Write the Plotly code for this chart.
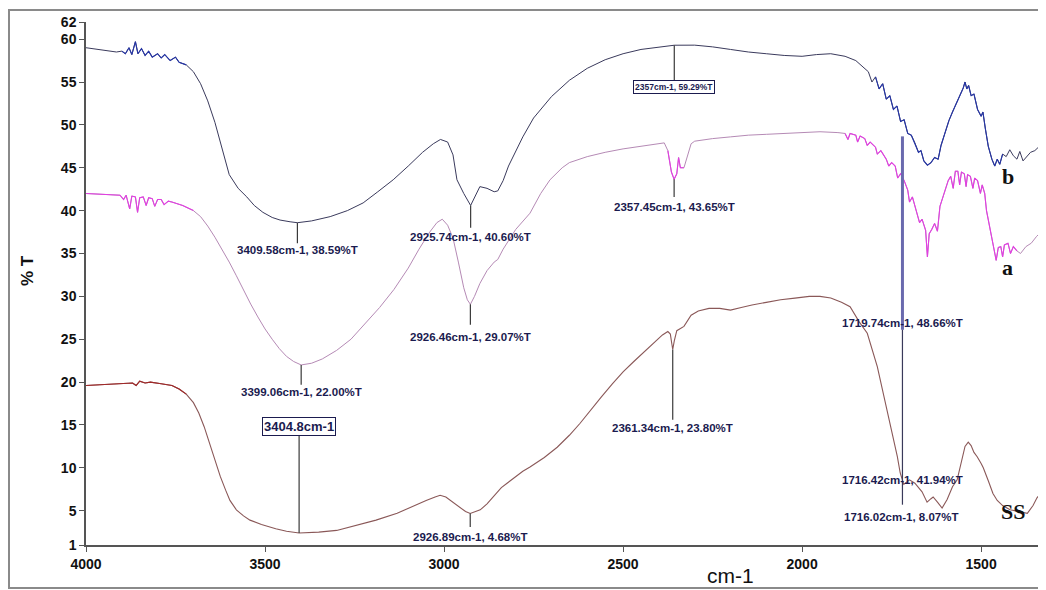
import plotly.graph_objects as go

# ---------------- data (wavenumber cm-1, %T) ----------------
b_points = [(4000,59.0),(3970,58.8),(3940,58.6),(3915,58.5),(3900,58.6),(3890,58.3),(3880,59.0),(3872,58.2),
 (3862,59.7),(3855,58.3),(3845,58.9),(3835,58.1),(3825,58.6),(3815,57.9),(3800,58.3),(3790,57.8),(3780,58.2),
 (3765,57.5),(3750,57.9),(3740,57.3),(3720,57.0),(3700,56.2),(3680,54.8),(3660,52.8),(3640,50.3),(3620,47.3),
 (3600,44.2),(3575,42.6),(3551,41.6),(3530,40.6),(3506,39.8),(3480,39.2),(3458,38.9),(3430,38.7),(3409.58,38.59),
 (3370,38.8),(3318,39.3),(3270,40.0),(3226,40.9),(3185,42.2),(3142,43.6),(3100,45.2),(3060,46.8),(3030,47.8),
 (3010,48.3),(2990,48.0),(2975,46.5),(2964,43.6),(2945,42.0),(2925.74,40.6),(2915,41.6),(2900,42.8),(2880,42.6),
 (2860,42.2),(2850,42.3),(2835,43.5),(2820,45.2),(2800,47.0),(2780,48.6),(2750,50.8),(2700,53.3),(2650,55.2),
 (2600,56.6),(2550,57.6),(2500,58.3),(2450,58.8),(2400,59.1),(2357,59.29),(2300,59.3),(2250,59.1),(2200,58.8),
 (2150,58.5),(2100,58.3),(2050,58.1),(2000,58.0),(1960,58.2),(1920,58.3),(1880,58.0),(1850,57.5),(1830,56.8),
 (1815,56.2),(1805,55.0),(1795,55.6),(1785,54.2),(1775,54.8),(1765,53.0),(1755,53.4),(1745,51.8),(1735,52.2),
 (1725,50.4),(1715,50.6),(1705,49.0),(1695,48.8),(1685,47.9),(1675,46.8),(1668,47.0),(1660,45.8),(1650,45.3),
 (1640,45.6),(1630,46.2),(1620,46.0),(1612,47.6),(1600,49.3),(1590,50.5),(1580,51.5),(1570,52.4),(1560,53.5),
 (1550,54.3),(1545,55.0),(1540,54.2),(1535,54.6),(1528,53.4),(1520,53.6),(1510,51.8),(1500,51.0),(1495,51.5),
 (1488,49.5),(1480,47.5),(1470,46.0),(1462,45.2),(1455,46.0),(1448,45.4),(1440,46.6),(1430,46.3),(1420,47.1),
 (1410,46.4),(1400,46.0),(1392,46.9),(1383,45.8),(1375,46.2),(1362,46.8),(1350,47.0),(1330,47.8)]

a_points = [(4000,42.0),(3960,41.9),(3930,41.8),(3905,41.8),(3895,41.3),(3888,41.8),(3878,40.2),(3872,41.7),
 (3862,41.6),(3856,39.8),(3850,41.5),(3840,41.6),(3832,40.6),(3825,41.5),(3815,41.4),(3808,40.5),(3800,41.3),
 (3790,41.3),(3782,40.7),(3770,41.1),(3760,41.0),(3745,40.8),(3730,40.6),(3715,40.3),(3700,40.0),(3680,39.3),
 (3660,38.2),(3640,36.9),(3620,35.5),(3600,34.0),(3580,32.4),(3560,30.7),(3540,29.1),(3520,27.6),(3500,26.2),
 (3480,25.0),(3460,23.9),(3440,23.0),(3420,22.4),(3399.06,22.0),(3370,22.2),(3340,22.7),(3300,23.7),(3260,25.0),
 (3220,26.8),(3180,28.7),(3140,30.8),(3100,33.3),(3070,35.5),(3040,37.5),(3020,38.6),(3005,39.0),(2990,38.3),
 (2975,36.8),(2960,34.0),(2945,31.0),(2935,29.6),(2926.46,29.07),(2915,30.0),(2900,31.5),(2880,33.0),(2860,34.0),
 (2850,34.3),(2835,35.5),(2800,37.8),(2760,39.7),(2730,42.0),(2704,43.6),(2670,45.0),(2650,45.6),(2600,46.3),
 (2550,46.8),(2500,47.2),(2450,47.5),(2400,47.8),(2385,47.9),(2375,47.0),(2365,44.5),(2357.45,43.65),(2350,44.3),
 (2345,46.2),(2340,45.0),(2330,45.0),(2320,46.5),(2310,47.8),(2300,48.1),(2250,48.4),(2200,48.6),(2150,48.8),
 (2100,48.9),(2050,49.0),(2000,49.1),(1950,49.2),(1900,49.1),(1880,49.0),(1872,48.3),(1866,49.0),(1850,48.8),
 (1845,48.0),(1838,48.7),(1825,48.4),(1818,47.6),(1810,48.0),(1795,47.4),(1790,46.6),(1780,47.0),(1765,46.0),
 (1758,45.2),(1750,45.6),(1740,45.2),(1733,43.8),(1725,44.3),(1715,43.5),(1705,42.4),(1700,41.0),(1692,41.6),
 (1680,39.8),(1672,38.6),(1665,39.0),(1655,37.7),(1650,34.6),(1645,37.3),(1638,37.8),(1630,38.5),(1622,37.6),
 (1615,40.5),(1605,41.8),(1600,42.5),(1592,43.5),(1585,44.0),(1578,42.6),(1572,44.6),(1565,44.6),(1560,43.0),
 (1555,44.5),(1547,44.3),(1542,42.8),(1538,44.2),(1530,44.0),(1523,42.6),(1518,43.8),(1510,43.5),(1502,42.0),
 (1497,43.0),(1490,42.0),(1485,40.0),(1478,38.5),(1472,37.5),(1465,36.0),(1458,34.2),(1452,35.7),(1445,35.8),
 (1440,34.6),(1435,36.0),(1425,36.2),(1418,35.0),(1410,35.8),(1400,35.3),(1390,35.0),(1375,35.8),(1360,36.2),
 (1345,37.0),(1330,37.6)]

ss_points = [(4000,19.6),(3950,19.7),(3900,19.8),(3870,19.9),(3860,19.6),(3850,20.1),(3835,19.9),(3820,20.0),
 (3790,19.8),(3760,19.6),(3740,19.2),(3720,18.6),(3700,17.6),(3685,16.4),(3670,14.8),(3655,12.8),(3640,10.8),
 (3625,9.0),(3610,7.4),(3598,6.2),(3580,5.1),(3560,4.4),(3542,3.9),(3510,3.4),(3470,2.9),(3440,2.6),(3404.8,2.4),
 (3350,2.5),(3300,2.7),(3271,3.0),(3230,3.4),(3190,3.9),(3131,4.7),(3090,5.5),(3050,6.2),(3025,6.6),(3011,6.8),
 (2995,6.6),(2975,6.0),(2955,5.3),(2940,4.9),(2926.89,4.68),(2910,4.9),(2899,5.1),(2880,5.8),(2860,6.8),(2840,7.7),
 (2824,8.2),(2800,9.0),(2780,9.6),(2760,10.1),(2720,11.2),(2684,12.4),(2650,13.8),(2620,15.2),(2590,16.8),
 (2560,18.3),(2530,19.8),(2500,21.2),(2470,22.4),(2440,23.6),(2410,24.8),(2390,25.5),(2375,25.9),(2368,25.6),
 (2364,24.5),(2361.34,23.8),(2357,24.8),(2350,26.0),(2330,26.5),(2310,27.8),(2290,28.3),(2260,28.6),(2230,28.6),
 (2200,28.4),(2170,28.7),(2140,29.0),(2100,29.3),(2060,29.6),(2020,29.8),(1980,30.0),(1950,30.0),(1920,29.8),
 (1890,29.3),(1866,28.8),(1840,27.0),(1818,25.7),(1790,21.8),(1762,16.7),(1734,11.3),(1726,9.4),(1716.02,8.07),
 (1700,8.6),(1685,8.2),(1665,7.2),(1651,6.0),(1640,6.4),(1634,6.6),(1622,6.0),(1609,5.3),(1595,6.3),(1580,7.8),
 (1567,8.6),(1555,10.8),(1545,12.5),(1536,13.0),(1528,12.6),(1520,11.8),(1511,11.3),(1500,10.5),(1494,10.0),
 (1480,8.5),(1467,7.0),(1455,6.2),(1440,5.6),(1419,5.1),(1395,4.9),(1371,4.7),(1355,5.6),(1344,6.5),(1330,7.2)]

# labelled peaks
peak_wn = [3409.58, 2925.74, 2357, 3399.06, 2926.46, 2357.45, 1719.74, 3404.8, 2926.89, 2361.34, 1716.42, 1716.02]
peak_T = [38.59, 40.60, 59.29, 22.00, 29.07, 43.65, 48.66, 2.4, 4.68, 23.80, 41.94, 8.07]
peak_text = ["3409.58cm-1, 38.59%T", "2925.74cm-1, 40.60%T", "2357cm-1, 59.29%T",
             "3399.06cm-1, 22.00%T", "2926.46cm-1, 29.07%T", "2357.45cm-1, 43.65%T",
             "1719.74cm-1, 48.66%T", "3404.8cm-1", "2926.89cm-1, 4.68%T",
             "2361.34cm-1, 23.80%T", "1716.42cm-1, 41.94%T", "1716.02cm-1, 8.07%T"]

series_names = ["b", "a", "SS"]
x_ticks = [4000, 3500, 3000, 2500, 2000, 1500]
y_ticks = [1, 5, 10, 15, 20, 25, 30, 35, 40, 45, 50, 55, 60, 62]

# ---------------- figure ----------------
# the page body has an 8px margin, so the figure is 8px smaller than the window
OFF = 8
W, H = 1046 - OFF, 590 - OFF
L, R, T, B = 78, 4, 14, 45
X0, X1 = 4000, 1330
Y0, Y1 = 1, 62
pw, ph = W - L - R, H - T - B

def px(xp):  # page pixel -> paper x
    return (xp - OFF - L) / pw

def py(yp):  # page pixel -> paper y
    return (H - B - (yp - OFF)) / ph

def unzip(p):
    return [q[0] for q in p], [q[1] for q in p]

def sub(p, lo, hi):
    return unzip([q for q in p if lo <= q[0] <= hi])

fig = go.Figure()

bx, by = unzip(b_points)
ax_, ay = unzip(a_points)
sx, sy = unzip(ss_points)

fig.add_trace(go.Scatter(x=sx, y=sy, mode="lines", line=dict(color="#8a5858", width=1.1), hoverinfo="skip"))
xs, ys = sub(ss_points, 3720, 4000)
fig.add_trace(go.Scatter(x=xs, y=ys, mode="lines", line=dict(color="#a02828", width=1.1), hoverinfo="skip"))

fig.add_trace(go.Scatter(x=ax_, y=ay, mode="lines", line=dict(color="#b58ab5", width=1.0), hoverinfo="skip"))
for lo, hi in [(3700, 4000), (2330, 2380), (1400, 1880)]:
    xs, ys = sub(a_points, lo, hi)
    fig.add_trace(go.Scatter(x=xs, y=ys, mode="lines", line=dict(color="#e23ee2", width=1.1), hoverinfo="skip"))

fig.add_trace(go.Scatter(x=bx, y=by, mode="lines", line=dict(color="#3a3a5c", width=1.0), hoverinfo="skip"))
for lo, hi in [(3720, 3900), (1440, 1800)]:
    xs, ys = sub(b_points, lo, hi)
    fig.add_trace(go.Scatter(x=xs, y=ys, mode="lines", line=dict(color="#2636a8", width=1.1), hoverinfo="skip"))

NAVY = "#1b1b4f"
LFONT = dict(family="Liberation Sans, Arial, sans-serif", size=11.5, color=NAVY, weight="bold")

# (line bottom %T, label centre %T, label x, xanchor, boxed, font size)
styles = [
    (36.2, 35.4, None, "center", False, 11.5),
    (38.0, 36.9, None, "center", False, 11.5),
    (55.2, 54.4, None, "center", True, 8.5),
    (19.7, 18.8, None, "center", False, 11.5),
    (26.7, 25.3, None, "center", False, 11.5),
    (41.6, 40.4, None, "center", False, 11.5),
    (26.1, 26.9, 1546, "right", False, 11.5),
    (14.1, 14.8, None, "center", True, 13),
    (3.1, 1.9, None, "center", False, 11.5),
    (15.6, 14.6, None, "center", False, 11.5),
    (5.7, 8.6, 1546, "right", False, 11.5),
    (None, 4.3, 1560, "right", False, 11.5),
]

shapes = []
annotations = []
for i, (wn, tv, txt) in enumerate(zip(peak_wn, peak_T, peak_text)):
    bot, lab, lx, xa, boxed, fs = styles[i]
    if i == 6:
        shapes.append(dict(type="line", xref="x", yref="y", x0=wn, x1=wn, y0=tv, y1=bot,
                           line=dict(color="#6a6aae", width=3), layer="above"))
    elif i == 10:
        shapes.append(dict(type="line", xref="x", yref="y", x0=peak_wn[6], x1=peak_wn[6], y0=styles[6][0], y1=bot,
                           line=dict(color="#3a3a5a", width=1.2), layer="above"))
    elif bot is not None:
        shapes.append(dict(type="line", xref="x", yref="y", x0=wn, x1=wn, y0=tv, y1=bot,
                           line=dict(color="#3a3a3a", width=1.2), layer="above"))
    f = dict(LFONT)
    f["size"] = fs
    ann = dict(x=wn if lx is None else lx, y=lab, xref="x", yref="y", text=txt, showarrow=False,
               xanchor=xa, yanchor="middle", font=f)
    if boxed:
        ann.update(bordercolor=NAVY, borderwidth=1, borderpad=1, bgcolor="white")
    annotations.append(ann)

# series names
serif = dict(family="Liberation Serif, Times New Roman, serif", size=22, color="#111111", weight="bold")
for name, (xv, yv) in zip(series_names, [(1425, 44.0), (1427, 33.4), (1410, 4.9)]):
    annotations.append(dict(x=xv, y=yv, xref="x", yref="y", text=name, showarrow=False, font=serif,
                            xanchor="center", yanchor="middle"))

annotations.append(dict(x=px(730), y=py(575), xref="paper", yref="paper", text="cm-1", showarrow=False,
                        xanchor="center", yanchor="middle",
                        font=dict(family="Liberation Sans Narrow, Liberation Sans, Arial, sans-serif", size=21, color="#111111")))
annotations.append(dict(x=px(27), y=py(271), xref="paper", yref="paper", text="% T", showarrow=False, textangle=-90,
                        xanchor="center", yanchor="middle",
                        font=dict(family="Liberation Sans, Arial, sans-serif", size=17, color="#111111", weight="bold")))

shapes.append(dict(type="rect", xref="paper", yref="paper", x0=px(9), x1=px(1044), y0=py(588), y1=py(10),
                   line=dict(color="#8a8a8a", width=2), layer="below"))

axis_common = dict(showgrid=False, zeroline=False, showline=True, linecolor="#555555", linewidth=1.5,
                   ticks="outside", ticklen=5, tickcolor="#555555",
                   tickfont=dict(family="Liberation Sans, Arial, sans-serif", size=14, color="#111111", weight="bold"))

fig.update_layout(
    width=W, height=H, margin=dict(l=L, r=R, t=T, b=B, autoexpand=False),
    paper_bgcolor="white", plot_bgcolor="white", showlegend=False,
    shapes=shapes, annotations=annotations,
    xaxis=dict(range=[X0, X1], tickvals=x_ticks, ticktext=[str(v) for v in x_ticks], **axis_common),
    yaxis=dict(range=[Y0, Y1], tickvals=y_ticks, ticktext=[str(v) for v in y_ticks], **axis_common),
)

fig.write_html("out.html")
